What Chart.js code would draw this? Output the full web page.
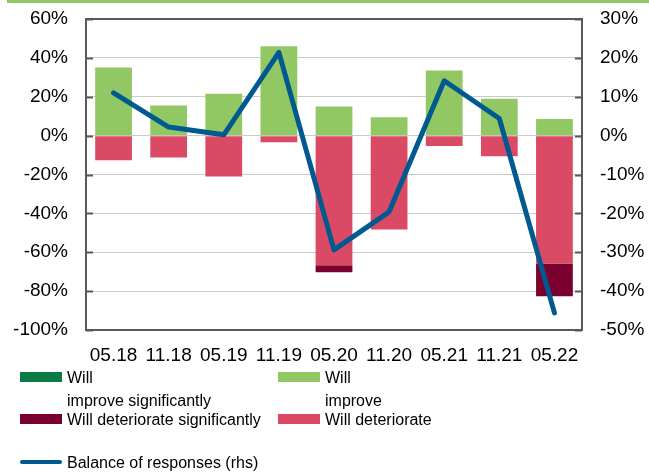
<!DOCTYPE html>
<html>
<head>
<meta charset="utf-8">
<script src="https://cdn.jsdelivr.net/npm/chart.js@4/dist/chart.umd.min.js"></script>
<style>
  html, body { margin: 0; padding: 0; background: #fff; }
  #wrap { position: relative; width: 649px; height: 472px; font-family: "Liberation Sans", Arial, sans-serif; }
  #topline { position: absolute; left: 7px; top: 0; width: 642px; height: 3px; background: #92c864; }
  #legend { position: absolute; left: 0; top: 0; width: 649px; height: 472px; pointer-events: none; }
  .item { position: absolute; font-size: 16px; line-height: 23px; color: #000; white-space: pre; }
  .sw { position: absolute; width: 42px; height: 10px; }
  .ln { position: absolute; width: 42px; height: 4px; border-radius: 2px; }
</style>
</head>
<body>
<div id="wrap">
  <canvas id="canvas" width="649" height="472"></canvas>
  <div id="topline"></div>
  <div id="legend"></div>
</div>
<script>
// data
var labels = ['05.18', '11.18', '05.19', '11.19', '05.20', '11.20', '05.21', '11.21', '05.22'];
var improveSignif = [0, 0, 0, 0, 0, 0, 0, 0, 0];
var improve = [35, 15.5, 21.5, 46, 15, 9.5, 33.5, 19, 8.5];
var deteriorate = [-12.7, -11.3, -21, -3.4, -66.7, -48.3, -5.3, -10.6, -65.8];
var deteriorateSignif = [0, 0, 0, 0, -3.6, 0, 0, 0, -16.8];
var balance = [11, 2.2, 0.2, 21.4, -29.4, -19.6, 14.1, 4.4, -45.6];

var leftTicks = { min: -100, max: 60, step: 20 };
var rightTicks = { min: -50, max: 30, step: 10 };

var fontFamily = '"Liberation Sans", Arial, sans-serif';
var borderColor = '#595959';

// frame round the plot + short ticks pointing inward on both sides
var framePlugin = {
    id: 'frame',
    afterDraw: function (chart) {
        var ctx = chart.ctx;
        var a = chart.chartArea;
        var y = chart.scales.y;
        ctx.save();
        ctx.strokeStyle = borderColor;
        ctx.lineWidth = 2;
        ctx.strokeRect(a.left, a.top, a.right - a.left, a.bottom - a.top);
        ctx.beginPath();
        for (var i = 0; i < y.ticks.length; i++) {
            var py = Math.round(y.getPixelForTick(i)) + 0.5;
            ctx.moveTo(a.left, py);
            ctx.lineTo(a.left + 7, py);
            ctx.moveTo(a.right - 7, py);
            ctx.lineTo(a.right, py);
        }
        ctx.stroke();
        ctx.restore();
    }
};

// fixed axis width, and no extra room above/below for the tick labels
function fixWidth(w) {
    return function (s) {
        s.width = w;
        s.paddingTop = 0;
        s.paddingBottom = 0;
    };
}

var ctx = document.getElementById('canvas');
var myChart = new Chart(ctx, {
    type: 'bar',
    data: {
        labels: labels,
        datasets: [{
            label: 'Will improve significantly',
            data: improveSignif,
            backgroundColor: '#0a7b45',
            yAxisID: 'y',
            order: 2
        }, {
            label: 'Will improve',
            data: improve,
            backgroundColor: '#92c864',
            yAxisID: 'y',
            order: 2
        }, {
            label: 'Will deteriorate',
            data: deteriorate,
            backgroundColor: '#db4a64',
            yAxisID: 'y',
            order: 2
        }, {
            label: 'Will deteriorate significantly',
            data: deteriorateSignif,
            backgroundColor: '#7a0030',
            yAxisID: 'y',
            order: 2
        }, {
            type: 'line',
            label: 'Balance of responses (rhs)',
            data: balance,
            borderColor: '#005a8f',
            backgroundColor: '#005a8f',
            borderWidth: 5,
            borderCapStyle: 'round',
            borderJoinStyle: 'round',
            pointRadius: 0,
            tension: 0,
            yAxisID: 'y1',
            order: 1
        }]
    },
    options: {
        responsive: false,
        animation: false,
        datasets: {
            bar: { categoryPercentage: 1, barPercentage: 0.667, stack: 'a' }
        },
        layout: { padding: { top: 19, bottom: 108, left: 0, right: 0 } },
        plugins: {
            legend: { display: false },
            tooltip: { enabled: false }
        },
        scales: {
            x: {
                stacked: true,
                grid: { display: false, drawTicks: false },
                border: { display: false },
                ticks: { color: '#000', font: { family: fontFamily, size: 19 }, padding: 14, maxRotation: 0, autoSkip: false },
                afterFit: function (s) { s.height = 34; }
            },
            y: {
                stacked: true,
                position: 'left',
                min: leftTicks.min,
                max: leftTicks.max,
                ticks: {
                    stepSize: leftTicks.step,
                    color: '#000',
                    font: { family: fontFamily, size: 19 },
                    padding: 18,
                    callback: function (v) { return v + '%'; }
                },
                grid: { color: '#c8cccc', lineWidth: 1, drawTicks: false },
                border: { display: false },
                afterFit: fixWidth(86)
            },
            y1: {
                position: 'right',
                min: rightTicks.min,
                max: rightTicks.max,
                ticks: {
                    stepSize: rightTicks.step,
                    color: '#000',
                    font: { family: fontFamily, size: 19 },
                    padding: 18,
                    callback: function (v) { return v + '%'; }
                },
                grid: { display: false, drawTicks: false },
                border: { display: false },
                afterFit: fixWidth(67)
            }
        }
    },
    plugins: [framePlugin]
});

// html legend built from the datasets
var legendText = {
    'Will improve significantly': 'Will\nimprove significantly',
    'Will improve': 'Will\nimprove'
};
var legendPos = [
    { x: 20, y: 366 },   // improve significantly
    { x: 278, y: 366 },  // improve
    { x: 278, y: 408 },  // deteriorate
    { x: 20, y: 408 },   // deteriorate significantly
    { x: 20, y: 451 }    // balance
];
var legendEl = document.getElementById('legend');
myChart.data.datasets.forEach(function (ds, i) {
    var p = legendPos[i];
    var mark = document.createElement('div');
    if (ds.type === 'line') {
        mark.className = 'ln';
        mark.style.top = (p.y + 9) + 'px';
    } else {
        mark.className = 'sw';
        mark.style.top = (p.y + 6) + 'px';
    }
    mark.style.left = p.x + 'px';
    mark.style.background = ds.backgroundColor;
    legendEl.appendChild(mark);
    var t = document.createElement('div');
    t.className = 'item';
    t.style.left = (p.x + 47) + 'px';
    t.style.top = p.y + 'px';
    t.textContent = legendText[ds.label] || ds.label;
    legendEl.appendChild(t);
});
</script>
</body>
</html>
